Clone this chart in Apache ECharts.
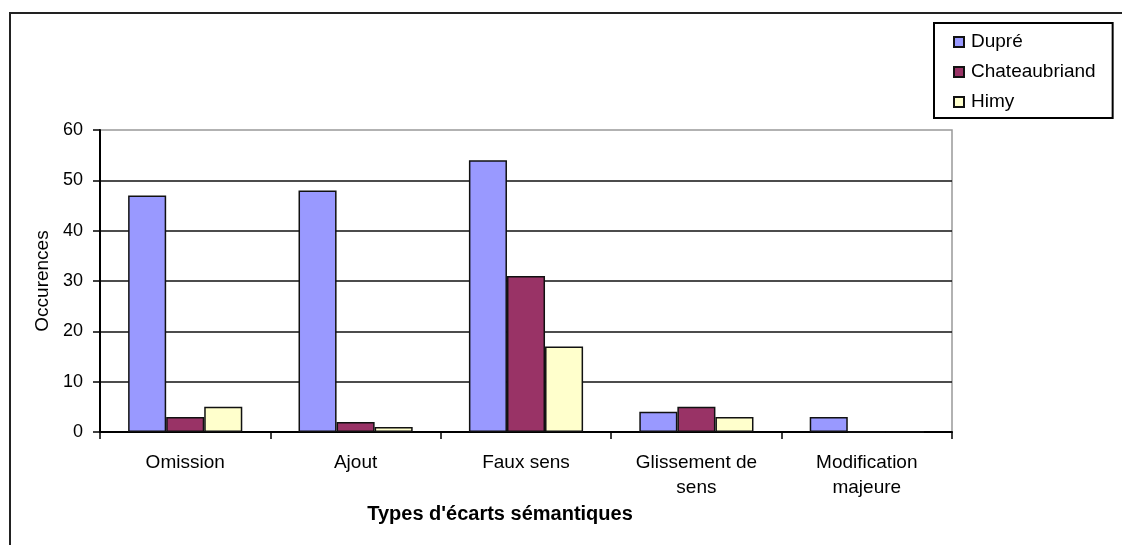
<!DOCTYPE html>
<html>
<head>
<meta charset="utf-8">
<script src="https://cdn.jsdelivr.net/npm/echarts@6/dist/echarts.min.js"></script>
<style>
  html, body { margin: 0; padding: 0; background: #fff; }
  #chart { width: 1122px; height: 545px; }
</style>
</head>
<body>
<div id="chart"></div>
<script>
// Semantic deviation types per translator
const categories = ['Omission', 'Ajout', 'Faux sens', 'Glissement de\nsens', 'Modification\nmajeure'];
const dupre = [47, 48, 54, 4, 3];
const chateaubriand = [3, 2, 31, 5, 0];
const himy = [5, 1, 17, 3, 0];
const yTicks = { min: 0, max: 60, interval: 10 };

const FONT = "'Liberation Sans', Arial, sans-serif";

const chart = echarts.init(document.getElementById('chart'), null, { renderer: 'canvas' });

function barSeries(name, data, color) {
  return {
    name: name,
    type: 'bar',
    data: data,
    barGap: '0%',
    barCategoryGap: '33%',
    itemStyle: { color: color, borderColor: '#111', borderWidth: 1.5 }
  };
}

chart.setOption({
  animation: false,
  backgroundColor: '#fff',
  textStyle: { fontFamily: FONT },
  graphic: [{
    // outer chart frame
    type: 'rect',
    shape: { x: 10, y: 13, width: 1200, height: 600 },
    style: { fill: 'none', stroke: '#222', lineWidth: 2 },
    silent: true
  }],
  legend: {
    orient: 'vertical',
    left: 934,
    top: 23,
    padding: [9, 17, 6, 19],
    itemGap: 10,
    itemWidth: 10,
    itemHeight: 10,
    icon: 'rect',
    borderColor: '#000',
    borderWidth: 2,
    textStyle: { fontFamily: FONT, fontSize: 19, color: '#000', lineHeight: 20, padding: [0, 0, 0, 2] }
  },
  grid: {
    left: 100,
    right: 170,
    top: 130,
    bottom: 113,
    show: true,
    borderColor: '#999',
    borderWidth: 1.5
  },
  xAxis: {
    type: 'category',
    data: categories,
    axisLine: { lineStyle: { color: '#000', width: 2 } },
    axisTick: { show: true, length: 7, lineStyle: { color: '#000', width: 1.5 } },
    axisLabel: { color: '#000', fontSize: 19, lineHeight: 25, margin: 18, fontFamily: FONT },
    name: "Types d'écarts sémantiques",
    nameLocation: 'middle',
    nameGap: 66,
    nameTextStyle: { fontFamily: FONT, fontSize: 20, fontWeight: 'bold', color: '#000', padding: [0, 52, 0, 0] }
  },
  yAxis: {
    type: 'value',
    min: yTicks.min,
    max: yTicks.max,
    interval: yTicks.interval,
    axisLine: { show: true, lineStyle: { color: '#000', width: 2 } },
    axisTick: { show: true, length: 7, lineStyle: { color: '#000', width: 1.5 } },
    axisLabel: { color: '#000', fontSize: 18, margin: 17, fontFamily: FONT },
    splitLine: { show: true, showMaxLine: false, lineStyle: { color: '#111', width: 1.5 } },
    name: 'Occurences',
    nameLocation: 'middle',
    nameGap: 48,
    nameRotate: 90,
    nameTextStyle: { fontFamily: FONT, fontSize: 19, color: '#000' }
  },
  series: [
    barSeries('Dupré', dupre, '#9999FF'),
    barSeries('Chateaubriand', chateaubriand, '#993366'),
    barSeries('Himy', himy, '#FFFFCC')
  ]
});
</script>
</body>
</html>
